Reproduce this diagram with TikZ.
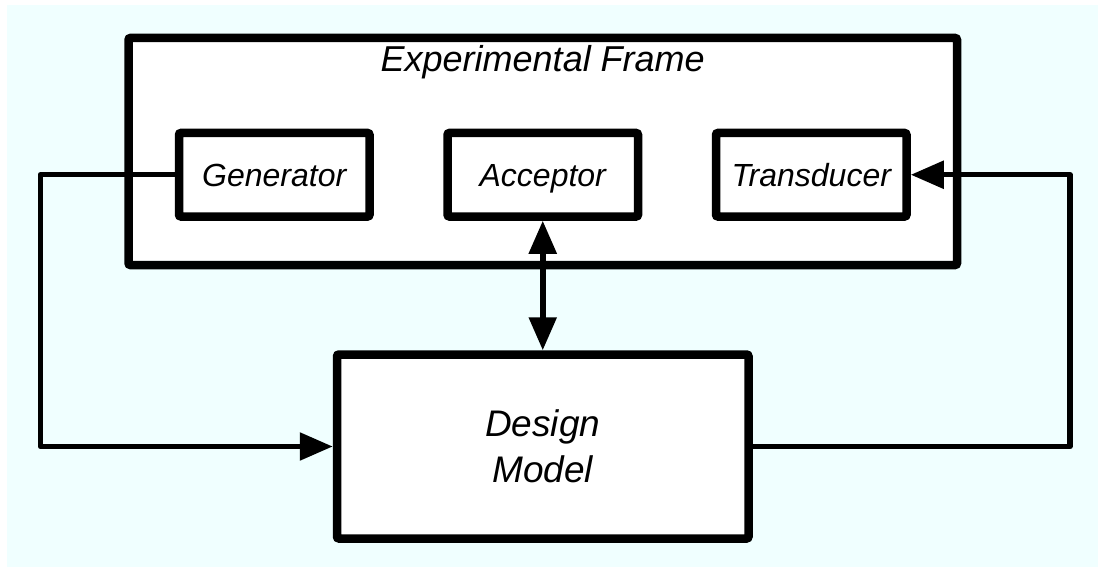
\documentclass[tikz,border=0pt]{standalone}
\usepackage{fontspec}
\setmainfont{Liberation Sans}
\usetikzlibrary{arrows.meta}
\definecolor{paleaqua}{RGB}{240,255,255}
\tikzset{
  block/.style={draw, fill=white, line width=8.5pt, rounded corners=2pt, inner sep=0pt},
  part/.style={block, minimum width=190.5pt, minimum height=83.5pt,
    text height=24pt, text depth=1.5pt, font=\fontsize{32}{38}\selectfont\itshape},
  conn/.style={line width=5.5pt, line join=round},
  bigtri/.tip={Triangle[length=33pt, width=27pt]},
}
\begin{document}
\begin{tikzpicture}[x=1pt, y=-1pt]
  % page and background
  \useasboundingbox (0,0) rectangle (1098,567);
  \fill[white] (0,0) rectangle (1098,567);
  \fill[paleaqua] (7,5) rectangle (1098,567);

  % experimental frame enclosure
  \node[block, minimum width=828.5pt, minimum height=227pt] (frame) at (542.75,151.5) {};
  \node[font=\fontsize{36}{42}\selectfont\itshape, anchor=base] (title) at (542.75,72) {Experimental Frame};

  % components of the frame
  \node[part] (gen) at (274.25,174.75) {Generator};
  \node[part] (acc) at (542.75,174.75) {Acceptor};
  \node[part] (trans) at (811.25,174.75) {Transducer};

  % model under test
  \node[block, minimum width=411.5pt, minimum height=184pt, align=center,
        font=\fontsize{37}{46}\selectfont\itshape] (design) at (542.75,446.5) {Design\\Model};

  % routing columns for the feedback loops
  \coordinate (lc) at (40.5,0);
  \coordinate (rc) at (1070,0);

  % generator drives the model
  \draw[conn, -{bigtri}] (gen.west) -- (gen.west -| lc) -- (design.west -| lc) -- (design.west);
  % acceptor exchanges with the model
  \draw[conn, {bigtri}-{bigtri}] (acc.south) -- (design.north);
  % model output feeds the transducer
  \draw[conn, -{bigtri}] (design.east) -- (design.east -| rc) -- (trans.east -| rc) -- (trans.east);
\end{tikzpicture}
\end{document}
